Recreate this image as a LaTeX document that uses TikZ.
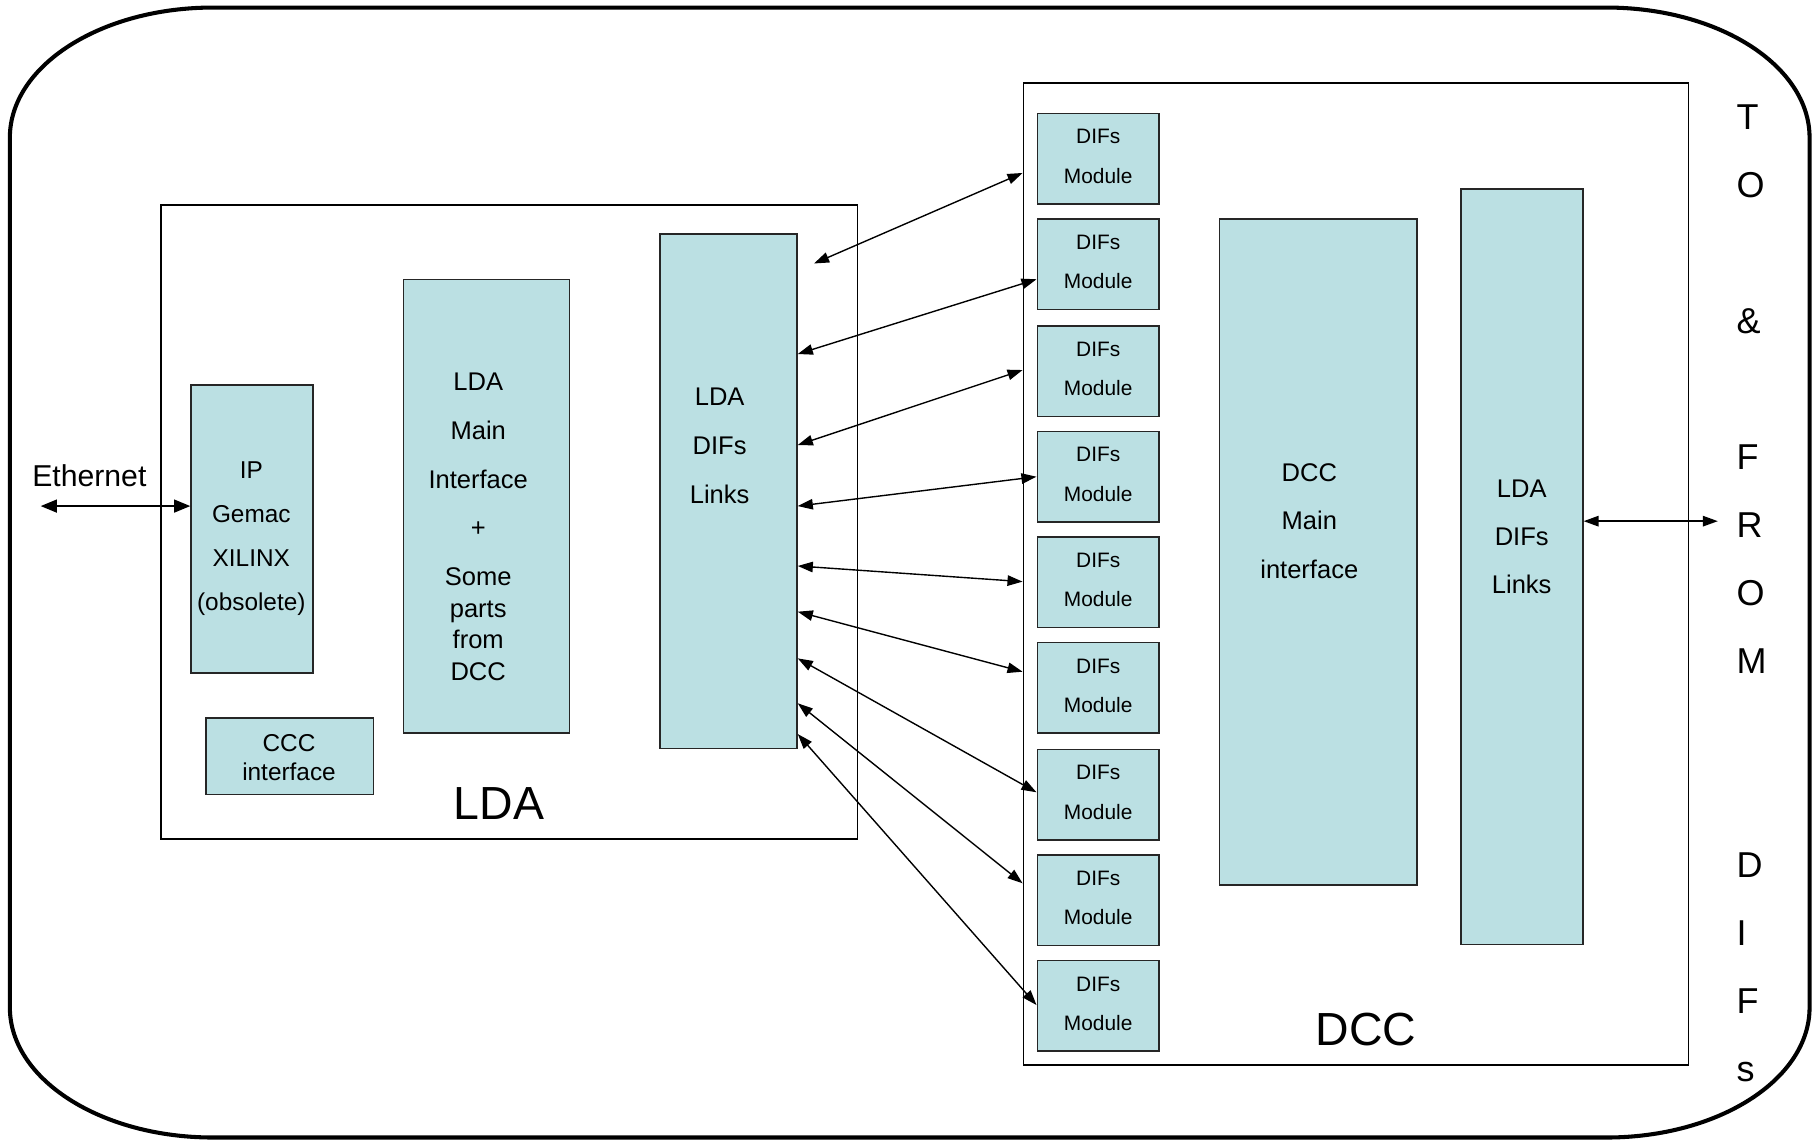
\documentclass[tikz,border=0pt]{standalone}
\usepackage{fontspec}
\setmainfont{Liberation Sans}
\usetikzlibrary{arrows.meta}
\definecolor{boxblue}{RGB}{187,224,227}
\begin{document}
\begin{tikzpicture}[x=1pt,y=-1pt,
  blk/.style={draw=black!85, fill=boxblue, line width=1.3pt, inner sep=0pt, anchor=north west},
  framebox/.style={draw=black, line width=1.5pt, inner sep=0pt, anchor=north west},
  txt/.style={inner sep=0pt, align=center},
  modtxt/.style={font=\fontsize{18}{34}\selectfont, align=center},
  dlink/.style={{Triangle[length=13pt,width=9pt]}-{Triangle[length=13pt,width=9pt]}, line width=1.2pt},
  thicklink/.style={{Triangle[length=14pt,width=11pt]}-{Triangle[length=14pt,width=11pt]}, line width=1.8pt},
]
\useasboundingbox (0,0) rectangle (1568,983);

% outer rounded frame
\draw[line width=3.5pt, black]
  (183.5,6.5) -- (1384,6.5)
  .. controls (1480.6,6.5) and (1559,56.7) .. (1559,118.5)
  -- (1559,868)
  .. controls (1559,929.8) and (1480.6,980) .. (1384,980)
  -- (183.5,980)
  .. controls (86.9,980) and (8.5,929.8) .. (8.5,868)
  -- (8.5,118.5)
  .. controls (8.5,56.7) and (86.9,6.5) .. (183.5,6.5) -- cycle;

% LDA part
\node[framebox, minimum width=600pt, minimum height=546pt] (lda) at (138,176) {};
\node[blk, minimum width=105pt, minimum height=248pt] (ip) at (164,331) {};
\node[blk, minimum width=144pt, minimum height=66pt] (ccc) at (177,618) {};
\node[blk, minimum width=143pt, minimum height=391pt] (ldamain) at (347,240) {};
\node[blk, minimum width=118pt, minimum height=443pt] (linksL) at (568,201) {};

\node[txt, font=\fontsize{21}{38}\selectfont] (iptxt) at (216.5,464) {IP\\Gemac\\XILINX\\(obsolete)};
\node[txt, font=\fontsize{21}{25}\selectfont] (ccctxt) at (249,652.5) {CCC\\interface};
\node[txt, font=\fontsize{22}{42}\selectfont] (maintxtA) at (412,413) {LDA\\Main\\Interface\\+\\Some};
\node[txt, font=\fontsize{22}{27}\selectfont] (maintxtB) at (412,552) {parts\\from\\DCC};
\node[txt, font=\fontsize{22}{42}\selectfont] (linksLtxt) at (620,384) {LDA\\DIFs\\Links};
\node[txt, font=\fontsize{40}{48}\selectfont] (ldalabel) at (430,692) {LDA};

\node[txt, font=\fontsize{26}{30}\selectfont] (eth) at (77,410) {Ethernet};
\coordinate (ethend) at (35,436);
\draw[thicklink] (ethend) -- ([yshift=-105pt]ip.north west);

% DCC part
\node[framebox, minimum width=573pt, minimum height=846pt] (dcc) at (881,71) {};
\foreach \i/\t in {1/97,2/188,3/280,4/371,5/462,6/553,7/645,8/736,9/827}{
  \node[blk, minimum width=105pt, minimum height=78pt, modtxt] (m\i) at (893,\t) {DIFs\\Module\rule[-4pt]{0pt}{0pt}};
}
\node[blk, minimum width=170pt, minimum height=574pt] (dccmain) at (1050,188) {};
\node[blk, minimum width=105pt, minimum height=651pt] (linksR) at (1258,162) {};
\node[txt, font=\fontsize{22}{42}\selectfont] (dccmaintxt) at (1128,449) {DCC\\Main\\interface};
\node[txt, font=\fontsize{22}{41.5}\selectfont] (linksRtxt) at (1311,462.5) {LDA\\DIFs\\Links};
\node[txt, font=\fontsize{40}{48}\selectfont] (dcclabel) at (1177,887) {DCC};

% TO & FROM DIFs column
\node[inner sep=0pt, align=left, anchor=west, font=\fontsize{31}{58.6}\selectfont] (tofrom) at (1496,511)
  {T\\O\\\mbox{}\\\&\\\mbox{}\\F\\R\\O\\M\\\mbox{}\\\mbox{}\\D\\I\\F\\s};
\coordinate (rightend) at (1480,449);
\draw[dlink, line width=1.5pt] ([yshift=-287pt]linksR.north east) -- (rightend);

% links between LDA DIFs links and DIFs modules
\draw[dlink] ([xshift=14pt,yshift=-26pt]linksL.north east) -- ([yshift=-78pt]dcc.north west);
\draw[dlink] ([yshift=-104pt]linksL.north east) -- ([yshift=-52.6pt]m2.north west);
\draw[dlink] ([yshift=-182.4pt]linksL.north east) -- ([yshift=-247.8pt]dcc.north west);
\draw[dlink] ([yshift=-235pt]linksL.north east) -- ([yshift=-39.7pt]m4.north west);
\draw[dlink] ([yshift=-286.6pt]linksL.north east) -- ([yshift=-430.1pt]dcc.north west);
\draw[dlink] ([yshift=-326pt]linksL.north east) -- ([yshift=-507.7pt]dcc.north west);
\draw[dlink] ([yshift=-366.2pt]linksL.north east) -- ([yshift=-37.6pt]m7.north west);
\draw[dlink] ([yshift=-404.9pt]linksL.north east) -- ([yshift=-690pt]dcc.north west);
\draw[dlink] ([yshift=-431.4pt]linksL.north east) -- ([yshift=-38.9pt]m9.north west);
\end{tikzpicture}
\end{document}
